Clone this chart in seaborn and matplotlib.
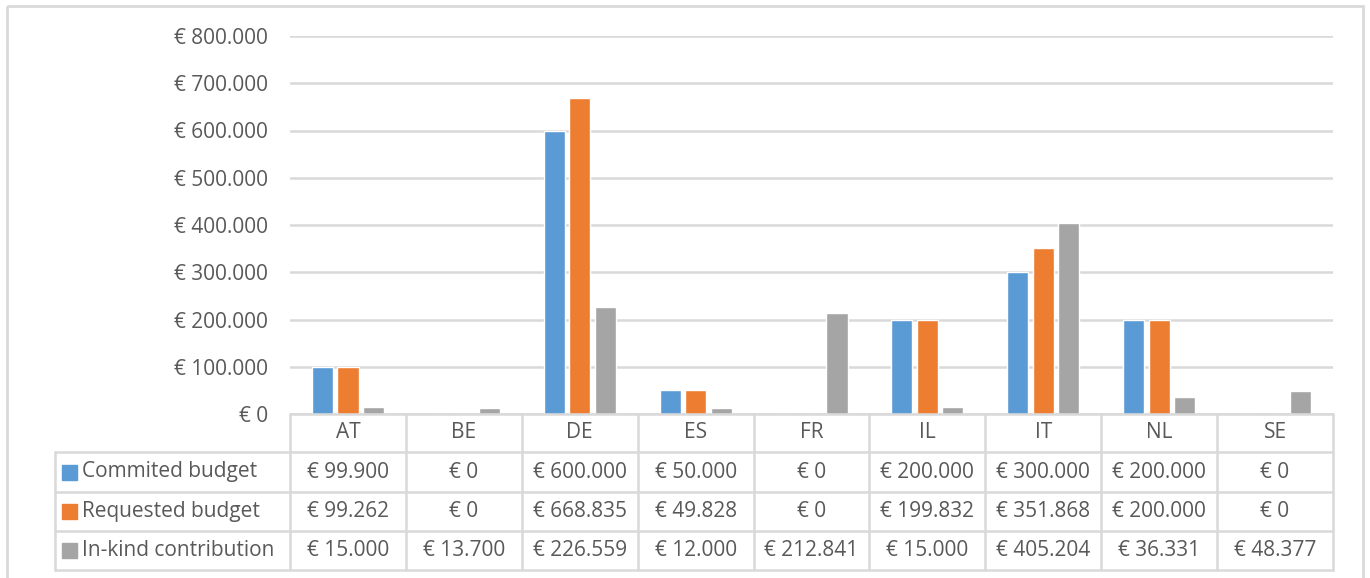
import seaborn as sns
import pandas as pd
import matplotlib.pyplot as plt
from matplotlib.patches import Rectangle
import matplotlib.ticker as ticker

# data
countries = ["AT", "BE", "DE", "ES", "FR", "IL", "IT", "NL", "SE"]
series = ["Commited budget", "Requested budget", "In-kind contribution"]
commited = [99900, 0, 600000, 50000, 0, 200000, 300000, 200000, 0]
requested = [99262, 0, 668835, 49828, 0, 199832, 351868, 200000, 0]
inkind = [15000, 13700, 226559, 12000, 212841, 15000, 405204, 36331, 48377]
colors = ["#5B9BD5", "#ED7D31", "#A5A5A5"]

def euro(v):
    return "€ " + "{:,.0f}".format(v).replace(",", ".")

rows = []
for name, vals in zip(series, [commited, requested, inkind]):
    for c, v in zip(countries, vals):
        rows.append({"country": c, "series": name, "value": v})
df = pd.DataFrame(rows)

sns.set_style("white")
plt.rcParams["font.family"] = ["Open Sans", "DejaVu Sans"]
txt = "#595959"
grid = "#D9D9D9"
fs = 15

W, H = 1370, 578
fig = plt.figure(figsize=(W / 100, H / 100), dpi=100)

# plot area in pixels
x0, x1, ytop, ybot = 290, 1333, 36, 414
ax = fig.add_axes([x0 / W, 1 - ybot / H, (x1 - x0) / W, (ybot - ytop) / H])
sns.barplot(data=df, x="country", y="value", hue="series", order=countries,
            hue_order=series, palette=colors, width=0.66, gap=0.17,
            saturation=1, ax=ax, legend=False)
ax.set_xlim(-0.5, len(countries) - 0.5)
ax.set_ylim(0, 800000)
ax.yaxis.set_major_locator(ticker.MultipleLocator(100000))
ax.yaxis.set_major_formatter(ticker.FuncFormatter(lambda v, p: euro(v)))
ax.grid(axis="y", color=grid, lw=1.8)
ax.set_axisbelow(True)
ax.tick_params(axis="y", length=0, pad=16, labelsize=fs, labelcolor=txt)
ax.set_xticks([])
ax.set(xlabel="", ylabel="")
for s in ax.spines.values():
    s.set_visible(False)

# data table under the plot, drawn on an overlay in pixel coords
tab = fig.add_axes([0, 0, 1, 1], facecolor="none")
tab.set_xlim(0, W)
tab.set_ylim(H, 0)
tab.axis("off")
lw = 1.8
cw = (x1 - x0) / len(countries)
ylines = [ybot, 452, 492, 531, 570]
xl = 55
tab.plot([x0, x1], [ybot, ybot], color=grid, lw=lw)
for y in ylines[1:]:
    tab.plot([xl, x1], [y, y], color=grid, lw=lw)
for i in range(len(countries) + 1):
    x = x0 + i * cw
    tab.plot([x, x], [ybot, ylines[-1]], color=grid, lw=lw)
tab.plot([xl, xl], [ylines[1], ylines[-1]], color=grid, lw=lw)

for i, c in enumerate(countries):
    tab.text(x0 + (i + 0.5) * cw, (ylines[0] + ylines[1]) / 2, c,
             ha="center", va="center", fontsize=fs, color=txt)
for r, (name, vals, col) in enumerate(zip(series, [commited, requested, inkind], colors)):
    yc = (ylines[r + 1] + ylines[r + 2]) / 2
    tab.add_patch(Rectangle((62, yc - 7.5), 15, 15, color=col))
    tab.text(82, yc, name, ha="left", va="center", fontsize=fs, color=txt)
    for i, v in enumerate(vals):
        tab.text(x0 + (i + 0.5) * cw, yc, euro(v), ha="center", va="center",
                 fontsize=fs, color=txt)

# outer chart frame
tab.add_patch(Rectangle((7, 6), 1356, 600, fill=False, ec=grid, lw=2))

fig.savefig("out.png", dpi=100)
